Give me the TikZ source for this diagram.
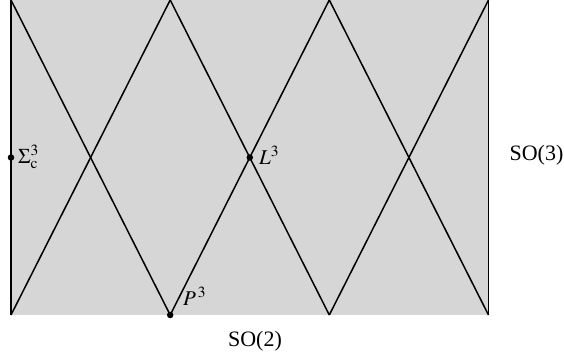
\documentclass[tikz,border=0pt]{standalone}
\usepackage{mathptmx}
\usepackage[no-math]{fontspec}
\setmainfont{Liberation Serif}
\begin{document}
\begin{tikzpicture}[x=1pt,y=-1pt,
  edge/.style={line width=1.5pt,black},
  dot/.style={circle,fill=black,inner sep=0pt,minimum size=6.5pt},
  lbl/.style={font=\fontsize{22}{26}\selectfont,inner sep=1pt},
  mlbl/.style={font=\fontsize{21}{25}\selectfont,inner sep=1pt}]
\useasboundingbox (0,0) rectangle (564,358);
\fill[black!16] (11,0) rectangle (488.5,315);
\coordinate (t0) at (11,0);
\coordinate (t1) at (170.2,0);
\coordinate (t2) at (329.3,0);
\coordinate (t3) at (488.5,0);
\coordinate (b0) at (11,315);
\coordinate (b1) at (170.2,315);
\coordinate (b2) at (329.3,315);
\coordinate (b3) at (488.5,315);
\draw[edge] (t0) -- (b0);
\draw[edge] (t3) -- (b3);
\draw[edge] (t0) -- (b1);
\draw[edge] (t1) -- (b0);
\draw[edge] (t1) -- (b2);
\draw[edge] (t2) -- (b1);
\draw[edge] (t2) -- (b3);
\draw[edge] (t3) -- (b2);
\node[dot] (sig) at (11,157.5) {};
\node[dot] (L) at (249.8,157.5) {};
\node[dot] (P) at (170.2,315) {};
\node[mlbl,anchor=west] (siglbl) at (17,157) {$\Sigma^3_{\mathrm{c}}$};
\node[mlbl,anchor=west] (Llbl) at (258,155) {$L^3$};
\node[mlbl,anchor=west] (Plbl) at (182,296) {$P^{\,3}$};
\node[lbl] (so3) at (536.5,155) {SO(3)};
\node[lbl] (so2) at (255,341) {SO(2)};
\end{tikzpicture}
\end{document}
